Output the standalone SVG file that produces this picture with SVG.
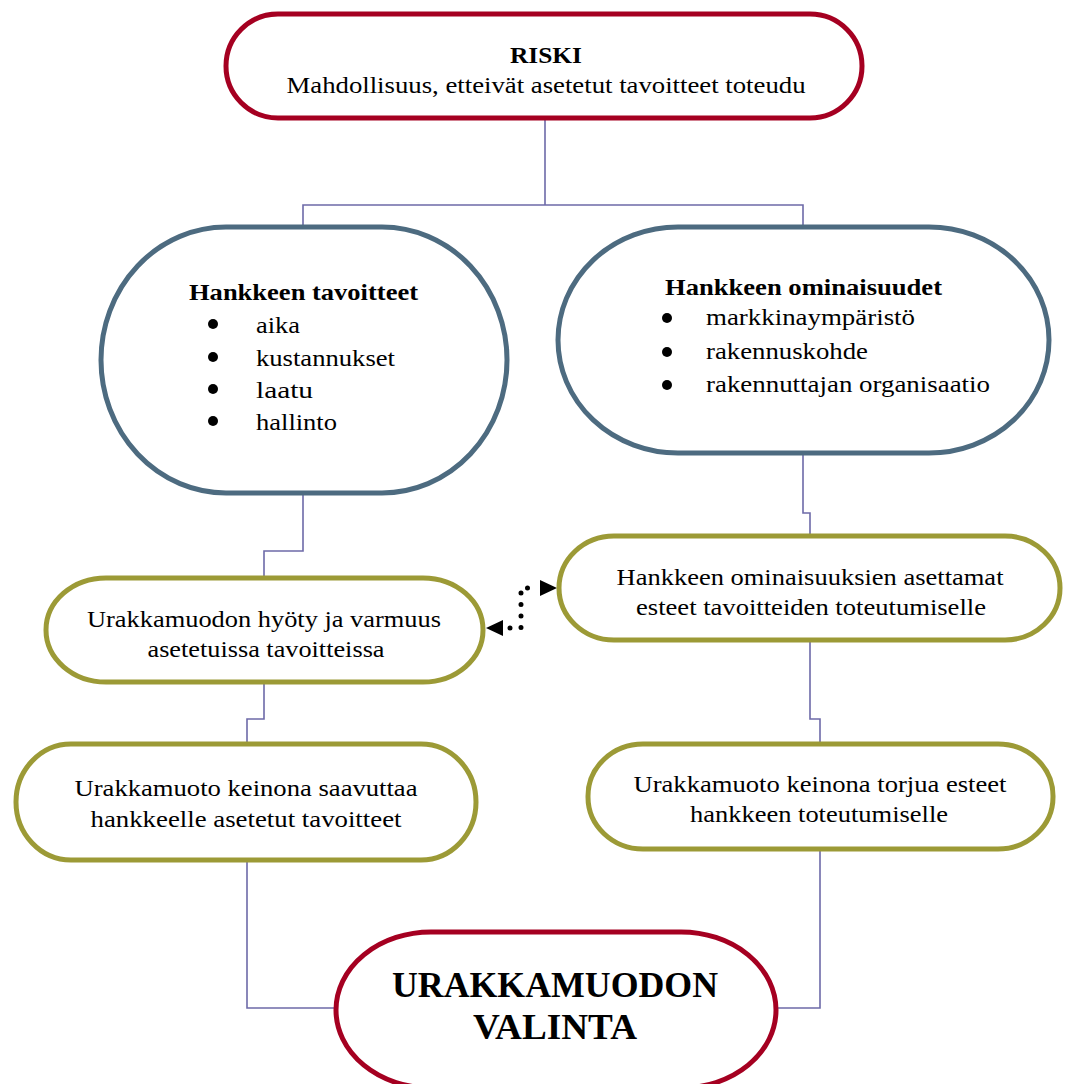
<svg xmlns="http://www.w3.org/2000/svg" width="1069" height="1084" viewBox="0 0 1069 1084">
  <style>
    text { font-family: 'Liberation Serif', 'DejaVu Serif', serif; fill: #000; font-size: 24px; }
    .c { text-anchor: middle; }
    .b { font-weight: bold; }
    .big { font-size: 35px; font-weight: bold; text-anchor: middle; }
    .red { fill: #fff; stroke: #a50021; stroke-width: 5; }
    .blue { fill: #fff; stroke: #4d6b80; stroke-width: 5; }
    .olive { fill: #fff; stroke: #9c9a36; stroke-width: 5; }
    .conn { fill: none; stroke: #6d6aa8; stroke-width: 1.6; }
    .dots { fill: none; stroke: #000; stroke-width: 5; stroke-linecap: round; stroke-dasharray: 0 11.5; }
  </style>

  <!-- connectors -->
  <g id="connectors">
    <path class="conn" d="M545,118 V205 M303,228 V205 H803 V228"/>
    <path class="conn" d="M303,493 V551 H264 V578"/>
    <path class="conn" d="M803,453 V513 H810 V536"/>
    <path class="conn" d="M264,683 V719 H247 V744"/>
    <path class="conn" d="M810,640 V719 H820 V744"/>
    <path class="conn" d="M247,860 V1008 H336"/>
    <path class="conn" d="M820,849 V1008 H776"/>
    <!-- dotted two-way link -->
    <path class="dots" d="M510,628 H521 V588 H532"/>
    <path d="M486,628 L503,620 L503,636 Z" fill="#000"/>
    <path d="M557,588 L540,580 L540,596 Z" fill="#000"/>
  </g>

  <g id="riski">
    <rect class="red" x="226" y="14" width="636" height="104" rx="52" ry="52"/>
    <text class="c b" x="546" y="63" textLength="72" lengthAdjust="spacingAndGlyphs">RISKI</text>
    <text class="c" x="546" y="93" textLength="519" lengthAdjust="spacingAndGlyphs">Mahdollisuus, etteivät asetetut tavoitteet toteudu</text>
  </g>

  <g id="tavoitteet">
    <rect class="blue" x="101" y="227" width="406" height="266" rx="125" ry="133"/>
    <text class="b" x="189" y="300" textLength="229" lengthAdjust="spacingAndGlyphs">Hankkeen tavoitteet</text>
    <circle cx="213" cy="324" r="5"/>
    <circle cx="213" cy="357" r="5"/>
    <circle cx="213" cy="389" r="5"/>
    <circle cx="213" cy="421" r="5"/>
    <text x="256" y="333" textLength="44" lengthAdjust="spacingAndGlyphs">aika</text>
    <text x="256" y="366" textLength="139" lengthAdjust="spacingAndGlyphs">kustannukset</text>
    <text x="256" y="398" textLength="57" lengthAdjust="spacingAndGlyphs">laatu</text>
    <text x="256" y="430" textLength="81" lengthAdjust="spacingAndGlyphs">hallinto</text>
  </g>

  <g id="ominaisuudet">
    <rect class="blue" x="558" y="227" width="491" height="226" rx="120" ry="113"/>
    <text class="b" x="665" y="295" textLength="277" lengthAdjust="spacingAndGlyphs">Hankkeen ominaisuudet</text>
    <circle cx="667" cy="318" r="5"/>
    <circle cx="667" cy="352" r="5"/>
    <circle cx="667" cy="385" r="5"/>
    <text x="706" y="325" textLength="209" lengthAdjust="spacingAndGlyphs">markkinaympäristö</text>
    <text x="706" y="359" textLength="162" lengthAdjust="spacingAndGlyphs">rakennuskohde</text>
    <text x="706" y="392" textLength="284" lengthAdjust="spacingAndGlyphs">rakennuttajan organisaatio</text>
  </g>

  <g id="hyoty">
    <rect class="olive" x="46" y="578" width="437" height="104" rx="60" ry="52"/>
    <text class="c" x="264" y="627" textLength="354" lengthAdjust="spacingAndGlyphs">Urakkamuodon hyöty ja varmuus</text>
    <text class="c" x="266" y="657" textLength="237" lengthAdjust="spacingAndGlyphs">asetetuissa tavoitteissa</text>
  </g>

  <g id="esteet">
    <rect class="olive" x="559" y="536" width="501" height="104" rx="55" ry="52"/>
    <text class="c" x="810" y="585" textLength="387" lengthAdjust="spacingAndGlyphs">Hankkeen ominaisuuksien asettamat</text>
    <text class="c" x="811" y="615" textLength="350" lengthAdjust="spacingAndGlyphs">esteet tavoitteiden toteutumiselle</text>
  </g>

  <g id="saavuttaa">
    <rect class="olive" x="16" y="744" width="460" height="116" rx="55" ry="58"/>
    <text class="c" x="246" y="796" textLength="343" lengthAdjust="spacingAndGlyphs">Urakkamuoto keinona saavuttaa</text>
    <text class="c" x="246" y="827" textLength="311" lengthAdjust="spacingAndGlyphs">hankkeelle asetetut tavoitteet</text>
  </g>

  <g id="torjua">
    <rect class="olive" x="588" y="744" width="465" height="105" rx="55" ry="52"/>
    <text class="c" x="820" y="792" textLength="373" lengthAdjust="spacingAndGlyphs">Urakkamuoto keinona torjua esteet</text>
    <text class="c" x="819" y="822" textLength="258" lengthAdjust="spacingAndGlyphs">hankkeen toteutumiselle</text>
  </g>

  <g id="valinta">
    <rect class="red" x="336" y="932" width="440" height="156" rx="95" ry="78"/>
    <text class="big" x="555" y="997" textLength="326" lengthAdjust="spacingAndGlyphs">URAKKAMUODON</text>
    <text class="big" x="555" y="1039" textLength="164" lengthAdjust="spacingAndGlyphs">VALINTA</text>
  </g>
</svg>
